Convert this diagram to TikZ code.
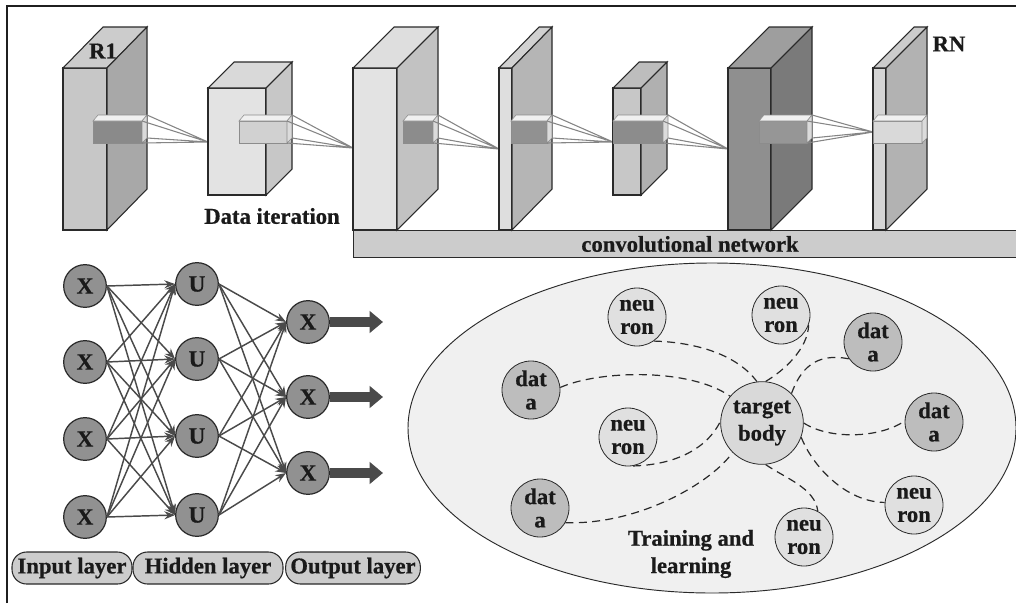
\documentclass[tikz,border=0pt]{standalone}
\usepackage{fontspec}
\setmainfont{Liberation Serif}[BoldFeatures={FakeBold=0.6}]
\usetikzlibrary{arrows.meta,shapes.geometric}
\definecolor{edge}{HTML}{2A2A2A}
\definecolor{tcol}{HTML}{1A1A1A}
\definecolor{raycol}{HTML}{858585}
\definecolor{arrcol}{HTML}{4A4A4A}
\newcommand\myblock[9]{%
  \filldraw[fill=#7,draw=edge,line width=0.8pt] (#1,#2) rectangle (#3,#4);
  \filldraw[fill=#9,draw=edge,line width=0.8pt] (#1,#2) -- ({#1+#5},{#2-#6}) -- ({#3+#5},{#2-#6}) -- (#3,#2) -- cycle;
  \filldraw[fill=#8,draw=edge,line width=0.8pt] (#3,#2) -- ({#3+#5},{#2-#6}) -- ({#3+#5},{#4-#6}) -- (#3,#4) -- cycle;
}
\newcommand\myprism[3]{%
  \filldraw[fill=#3,draw=black!45,line width=0.4pt] (#1,121) rectangle (#2,143);
  \filldraw[fill=black!6,draw=black!45,line width=0.4pt] (#1,121) -- ({#1+5},115) -- ({#2+5},115) -- (#2,121) -- cycle;
  \filldraw[fill=black!14,draw=black!45,line width=0.4pt] (#2,121) -- ({#2+5},115) -- ({#2+5},138) -- (#2,143) -- cycle;
}
\newcommand\myrays[3]{%
  \draw[raycol,line width=0.8pt] (#1,121) -- (#2,#3) ({#1+5},115) -- (#2,#3) ({#1+5},138) -- (#2,#3) (#1,143) -- (#2,#3);
}
\begin{document}
\begin{tikzpicture}[x=0.75pt,y=-0.75pt,
  txt/.style={font=\fontsize{17}{20.5}\selectfont\bfseries,text=tcol,inner sep=0pt},
  nx/.style={circle,draw=edge,line width=0.9pt,fill=black!43,minimum size=32pt,inner sep=0pt,font=\fontsize{17.5}{20}\selectfont\bfseries,text=tcol},
  narr/.style={arrcol,line width=1.1pt,-{Stealth[length=8pt,width=6pt]}},
  bigarr/.style={arrcol,line width=7pt,-{Triangle[length=10pt,width=16pt]}},
  layerbox/.style={draw=edge,line width=0.8pt,fill=black!20,rounded corners=11pt,minimum height=24pt,inner sep=0pt,font=\fontsize{17}{20}\selectfont\bfseries,text=tcol},
  neur/.style={circle,draw=edge,line width=0.6pt,fill=black!12,minimum size=43.5pt,inner sep=0pt,align=center,font=\fontsize{17}{17.5}\selectfont\bfseries,text=tcol},
  dat/.style={neur,fill=black!26},
  dsh/.style={edge,line width=0.9pt,dash pattern=on 6pt off 4pt}]
\useasboundingbox (0,0) rectangle (1016,603);
\fill[white] (0,0) rectangle (1016,603);
% frame
\draw[black!88,line width=2.2pt] (7,603) -- (7,6) -- (1016,6);
% convolutional bar
\node[draw=edge,line width=0.8pt,fill=black!20,minimum width=497pt,minimum height=20.25pt,inner sep=0pt,anchor=north west] (bar) at (353,230) {};
\node[txt] (bartxt) at (690,244) {convolutional network};
% blocks
\myblock{63}{68}{107}{230}{40}{41}{black!22}{black!34}{black!20}
\myprism{93}{142}{black!46}
\myrays{142}{208}{142}
\myblock{208}{88}{266}{195}{26}{26}{black!11}{black!22}{black!15}
\myprism{239}{287}{black!18}
\myrays{287}{353}{148}
\myblock{353}{68}{397}{230}{41}{41}{black!11}{black!24}{black!13}
\myprism{403}{433}{black!45}
\myrays{433}{499}{149}
\myblock{499}{68}{512}{230}{40}{41}{black!13}{black!29}{black!18}
\myprism{511}{547}{black!43}
\myrays{547}{613}{142}
\myblock{613}{88}{641}{195}{26}{26}{black!22}{black!31}{black!26}
\myprism{613}{663}{black!45}
\myrays{663}{728}{149}
\myblock{728}{68}{771}{230}{41}{41}{black!44}{black!52}{black!38}
\myprism{759}{807}{black!41}
\myrays{807}{873}{132}
\myblock{873}{68}{886}{230}{41}{41}{black!17}{black!30}{black!20}
\myprism{873}{922}{black!15}
\node[txt] (r1) at (103,51) {R1};
\node[txt] (rn) at (949,44) {RN};
\node[txt] (di) at (272,216) {Data iteration};
% neural network
\node[nx] (i1) at (85,286) {X};
\node[nx] (i2) at (85,362) {X};
\node[nx] (i3) at (85,439) {X};
\node[nx] (i4) at (85,517) {X};
\node[nx] (h1) at (197,284) {U};
\node[nx] (h2) at (197,359) {U};
\node[nx] (h3) at (197,436) {U};
\node[nx] (h4) at (197,515) {U};
\node[nx] (o1) at (308,322) {X};
\node[nx] (o2) at (308,397) {X};
\node[nx] (o3) at (308,473) {X};
\foreach \a in {1,...,4}{\foreach \b in {1,...,4}{\draw[narr] (i\a.east) -- (h\b.west);}}
\foreach \a in {1,...,4}{\foreach \b in {1,2,3}{\draw[narr] (h\a.east) -- (o\b.west);}}
\coordinate (e1) at (383,322);
\coordinate (e2) at (383,397);
\coordinate (e3) at (383,473);
\draw[bigarr] (o1.east) -- (e1);
\draw[bigarr] (o2.east) -- (e2);
\draw[bigarr] (o3.east) -- (e3);
\node[layerbox,minimum width=90pt] (l1) at (72,568) {Input layer};
\node[layerbox,minimum width=112.5pt] (l2) at (208,568) {Hidden layer};
\node[layerbox,minimum width=101pt] (l3) at (353,568) {Output layer};
% training field
\node[ellipse,draw=edge,line width=0.7pt,fill=black!6,minimum width=456pt,minimum height=247.5pt,inner sep=0pt] (field) at (712,428) {};
\node[neur] (n1) at (637,317) {neu\\ron};
\node[dat] (d1) at (531,390) {dat\\a};
\node[neur] (n2) at (628,437) {neu\\ron};
\node[dat] (d2) at (540,508) {dat\\a};
\node[neur] (n3) at (781,315) {neu\\ron};
\node[dat] (d3) at (873,342) {dat\\a};
\node[neur,minimum size=62pt,fill=black!15,font=\fontsize{17}{20.5}\selectfont\bfseries] (tb) at (762,423) {target\\body};
\node[dat] (d4) at (934,422) {dat\\a};
\node[neur] (n4) at (914,505) {neu\\ron};
\node[neur] (n5) at (804,537) {neu\\ron};
\node[txt,align=center] (tl) at (691,554) {Training and\\learning};
\draw[dsh] (n1.-55) .. controls (690,342) and (735,352) .. (tb.97);
\draw[dsh] (d1.5) .. controls (600,370) and (690,368) .. (tb.140);
\draw[dsh] (n2.-80) .. controls (670,465) and (705,452) .. (tb.178);
\draw[dsh] (d2.-30) .. controls (640,525) and (712,482) .. (tb.-135);
\draw[dsh] (tb.85) .. controls (785,370) and (808,348) .. (n3.-20);
\draw[dsh] (tb.45) .. controls (800,370) and (815,352) .. (d3.-145);
\draw[dsh] (tb.0) .. controls (830,440) and (880,438) .. (d4.178);
\draw[dsh] (tb.-20) .. controls (812,465) and (845,502) .. (n4.175);
\draw[dsh] (tb.-85) .. controls (785,478) and (815,488) .. (n5.62);
\end{tikzpicture}
\end{document}
